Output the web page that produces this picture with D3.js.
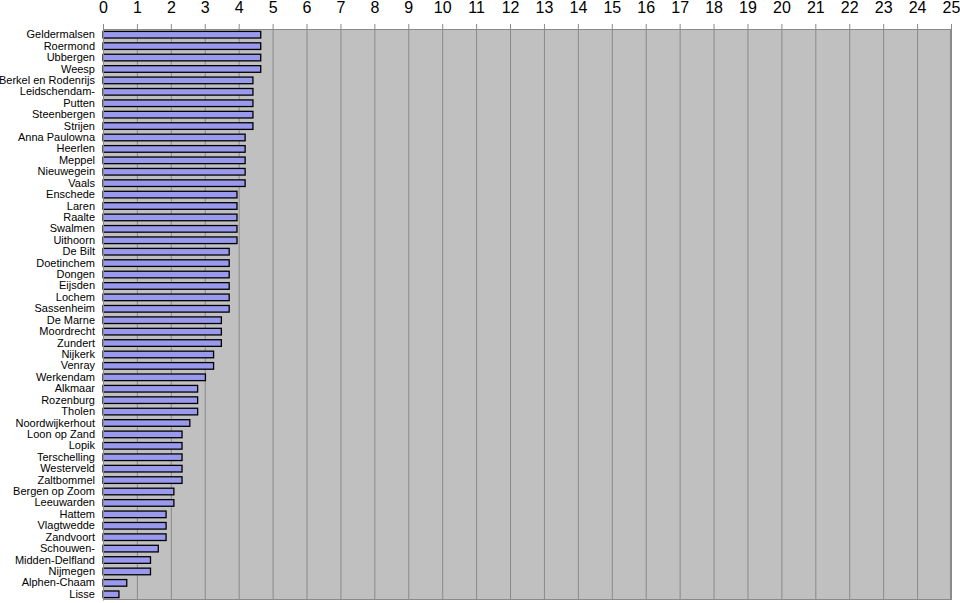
<!DOCTYPE html>
<html><head><meta charset="utf-8">
<script src="https://cdn.jsdelivr.net/npm/d3@7"></script>
<style>body{margin:0;background:#fff;} svg{display:block;font-family:"Liberation Sans",Arial,sans-serif;}</style>
</head><body>
<svg id="c" width="960" height="603"></svg>
<script>
const categories = ["Geldermalsen","Roermond","Ubbergen","Weesp","Berkel en Rodenrijs","Leidschendam-","Putten","Steenbergen","Strijen","Anna Paulowna","Heerlen","Meppel","Nieuwegein","Vaals","Enschede","Laren","Raalte","Swalmen","Uithoorn","De Bilt","Doetinchem","Dongen","Eijsden","Lochem","Sassenheim","De Marne","Moordrecht","Zundert","Nijkerk","Venray","Werkendam","Alkmaar","Rozenburg","Tholen","Noordwijkerhout","Loon op Zand","Lopik","Terschelling","Westerveld","Zaltbommel","Bergen op Zoom","Leeuwarden","Hattem","Vlagtwedde","Zandvoort","Schouwen-","Midden-Delfland","Nijmegen","Alphen-Chaam","Lisse"];
const values = [4.65,4.65,4.65,4.65,4.42,4.42,4.42,4.42,4.42,4.19,4.19,4.19,4.19,4.19,3.95,3.95,3.95,3.95,3.95,3.72,3.72,3.72,3.72,3.72,3.72,3.49,3.49,3.49,3.26,3.26,3.02,2.79,2.79,2.79,2.56,2.33,2.33,2.33,2.33,2.33,2.09,2.09,1.86,1.86,1.86,1.63,1.40,1.40,0.70,0.47];
const xTicks = d3.range(0, 26);

const svg = d3.select("#c");
const L = 103, R = 951, T = 29, B = 600;
const x = d3.scaleLinear().domain([0, 25]).range([L, R]);
const y = d3.scaleBand().domain(categories).range([T, B]).paddingInner(0.42).paddingOuter(0.21);

svg.append("rect").attr("x", L).attr("y", T).attr("width", R - L).attr("height", B - T).attr("fill", "#c0c0c0");

// gridlines
svg.append("g").selectAll("line").data(xTicks.slice(1)).join("line")
  .attr("x1", d => x(d) + 0.5).attr("x2", d => x(d) + 0.5)
  .attr("y1", T).attr("y2", B)
  .attr("stroke", "#8a8a8a").attr("stroke-width", 1);

// border
svg.append("rect").attr("x", L + 0.5).attr("y", T + 0.5).attr("width", R - L - 1).attr("height", B - T - 1)
  .attr("fill", "none").attr("stroke", "#8a8a8a").attr("stroke-width", 1);

// bars
svg.append("g").selectAll("rect").data(categories).join("rect")
  .attr("x", x(0))
  .attr("y", d => y(d))
  .attr("width", (d, i) => x(values[i]) - x(0))
  .attr("height", y.bandwidth())
  .attr("fill", "#9999ee").attr("stroke", "#000").attr("stroke-width", 1.3);

// top axis
const xAxis = d3.axisTop(x).tickValues(xTicks).tickSize(5).tickPadding(11).tickFormat(d3.format("d"));
const gx = svg.append("g").attr("transform", `translate(0,${T})`).call(xAxis);
gx.select(".domain").remove();
gx.selectAll(".tick line").attr("stroke", "#8a8a8a");
gx.selectAll(".tick text").attr("font-size", 16).attr("fill", "#000").attr("font-family", "Liberation Sans, Arial, sans-serif");

// left axis
const yAxis = d3.axisLeft(y).tickSize(0).tickPadding(8);
const gy = svg.append("g").attr("transform", `translate(${L},0)`).call(yAxis);
gy.select(".domain").attr("stroke", "#8a8a8a");
gy.selectAll(".tick text").attr("font-size", 11).attr("fill", "#000").attr("font-family", "Liberation Sans, Arial, sans-serif");
</script>
</body></html>
